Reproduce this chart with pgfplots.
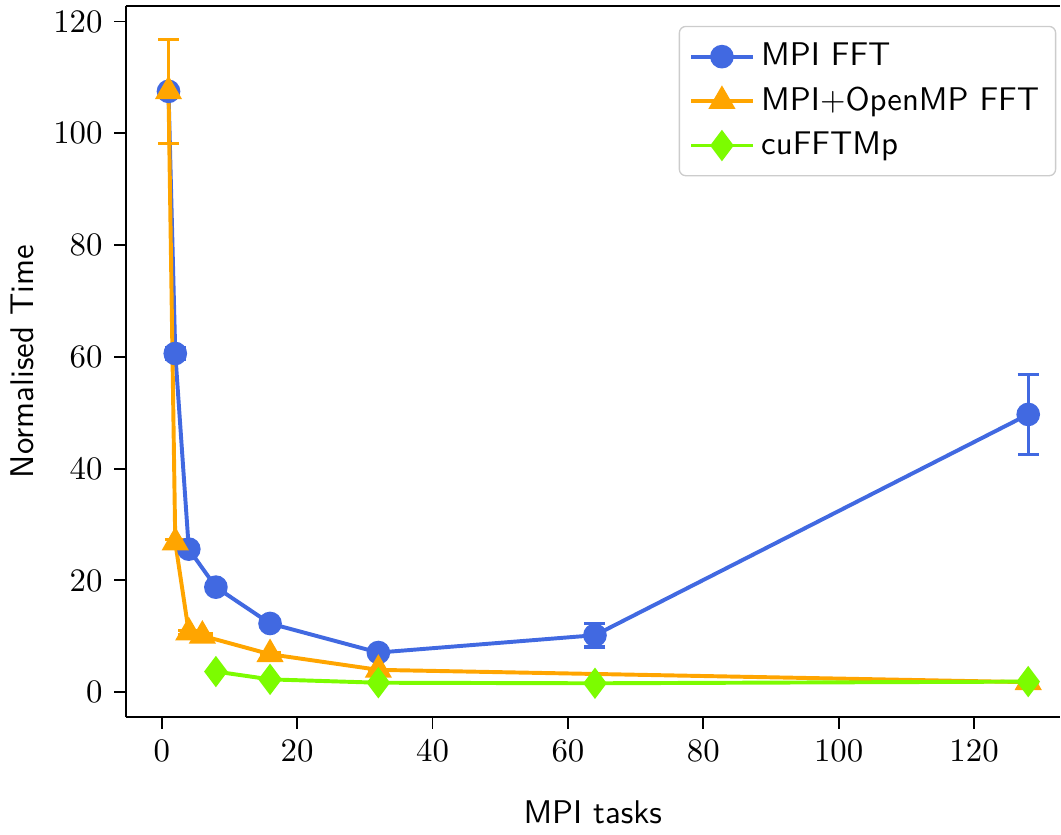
\documentclass[border=0pt]{standalone}
\usepackage{pgfplots}
\pgfplotsset{compat=1.18}
\begin{document}
\begin{tikzpicture}
\definecolor{mpiblue}{RGB}{65,105,225}
\definecolor{omporange}{RGB}{255,165,0}
\definecolor{cugreen}{RGB}{124,252,0}
\begin{axis}[
  scale only axis,
  width=285pt, height=217pt,
  xmin=-5.35, xmax=132.7,
  ymin=-4.5, ymax=122.8,
  xtick={0,20,...,120}, ytick={0,20,...,120},
  axis y line*=left,
  xtick pos=bottom,
  tick align=outside,
  major tick length=3.5pt,
  tick style={black, line width=0.6pt},
  axis line style={line width=0.6pt},
  xlabel={\sffamily MPI tasks},
  ylabel={\sffamily Normalised Time},
  xlabel style={yshift=-5pt},
  ylabel style={yshift=-1pt},
  legend cell align=left,
  legend style={at={(rel axis cs:0.996,0.972)}, anchor=north east,
    draw=black!20, rounded corners=2pt, font=\sffamily,
    row sep=1pt, inner xsep=3pt, inner ysep=3pt},
  legend image code/.code={
    \draw[mark repeat=2, mark phase=2] plot coordinates {(0cm,0cm) (0.33cm,0cm) (0.66cm,0cm)};
  },
  every axis plot/.append style={line width=1.2pt},
  error bars/error bar style={line width=1pt},
  error bars/error mark options={rotate=90, mark size=3.2pt, line width=1pt},
]
\addplot[color=mpiblue, mark=*, mark size=3pt,
  error bars/.cd, y dir=both, y explicit] coordinates {
  (1,107.5) +- (0,0)
  (2,60.6) +- (0,1.0)
  (4,25.6) +- (0,0.5)
  (8,18.8) +- (0,0.4)
  (16,12.3) +- (0,0.3)
  (32,7.1) +- (0,0.2)
  (64,10.2) +- (0,2.1)
  (128,49.7) +- (0,7.2)
};
\addlegendentry{MPI FFT}
\addplot[color=omporange, mark=triangle*, mark size=3.6pt,
  error bars/.cd, y dir=both, y explicit] coordinates {
  (1,107.5) +- (0,9.3)
  (2,26.8) +- (0,0.5)
  (4,10.7) +- (0,0.4)
  (6,10.1) +- (0,0.3)
  (16,6.8) +- (0,0.2)
  (32,4.0) +- (0,0.1)
  (128,1.8) +- (0,0.1)
};
\addlegendentry{MPI+OpenMP FFT}
\addplot[color=cugreen, mark=diamond*, mark size=3.8pt] coordinates {
  (8,3.7) (16,2.3) (32,1.7) (64,1.6) (128,1.9)
};
\addlegendentry{cuFFTMp}
\end{axis}
\end{tikzpicture}
\end{document}
